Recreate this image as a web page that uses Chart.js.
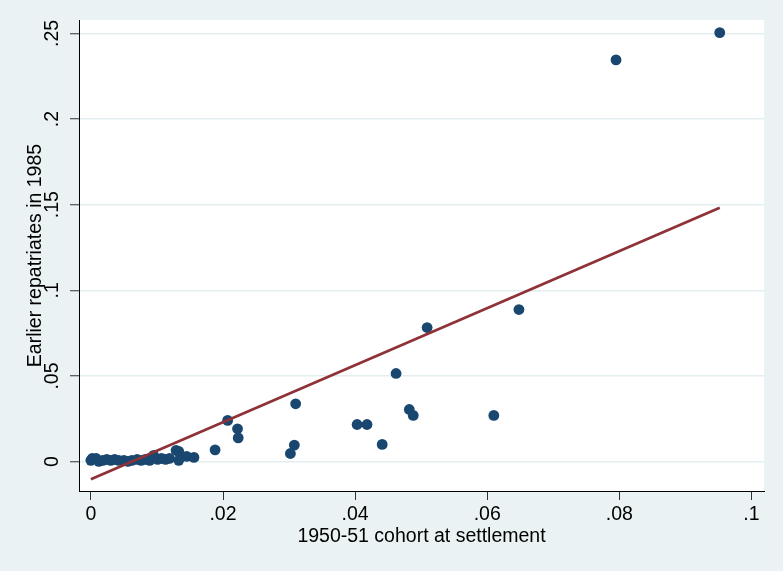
<!DOCTYPE html>
<html>
<head>
<meta charset="utf-8">
<script src="https://cdn.jsdelivr.net/npm/chart.js@4/dist/chart.umd.min.js"></script>
<style>
    html, body { margin: 0; padding: 0; background: #eaf2f3; }
    #wrap { width: 783px; height: 571px; }
</style>
</head>
<body>
<div id="wrap"><canvas id="scatterChart" width="783" height="571"></canvas></div>
<script>
// Data
const cohortShare = [
    0, 0.0002, 0.0008, 0.0012, 0.0018, 0.0024, 0.003, 0.0036, 0.0042, 0.005,
    0.0056, 0.0062, 0.007, 0.0076, 0.0082, 0.0089, 0.0095, 0.0101, 0.0107, 0.0113,
    0.0119, 0.0129, 0.0133, 0.0133, 0.0145, 0.0156, 0.0188, 0.0207, 0.0222, 0.0223,
    0.0310, 0.0308, 0.0302, 0.0403, 0.0418, 0.0441, 0.0462, 0.0482, 0.0488, 0.0509,
    0.0610, 0.0648, 0.0795, 0.0952
];
const repatriates = [
    0.0008, 0.0019, 0.0019, 0.0002, 0.0008, 0.0013, 0.0008, 0.0013, 0.0008, 0.0008,
    0.0002, 0.0008, 0.0013, 0.0008, 0.0013, 0.0008, 0.0037, 0.0013, 0.0019, 0.0013,
    0.0019, 0.0066, 0.0060, 0.0008, 0.0031, 0.0025, 0.0069, 0.0241, 0.0192, 0.0139,
    0.0338, 0.0097, 0.0048, 0.0217, 0.0217, 0.0101, 0.0515, 0.0305, 0.0270, 0.0783,
    0.0270, 0.0888, 0.2345, 0.2504
];

// Fitted line end points
const fitX = [0, 0.0952];
const fitY = [-0.0103, 0.1482];

// Axis ticks
const xTicks = [0, 0.02, 0.04, 0.06, 0.08, 0.1];
const xTickLabels = ['0', '.02', '.04', '.06', '.08', '.1'];
const yTicks = [0, 0.05, 0.1, 0.15, 0.2, 0.25];
const yTickLabels = ['0', '.05', '.1', '.15', '.2', '.25'];

const FONT = { family: "'Liberation Sans', Arial, sans-serif", size: 19.5 };

// White plot region on the grey-blue page
const plotBackground = {
    id: 'plotBackground',
    beforeDraw(chart) {
        const { ctx, chartArea } = chart;
        ctx.save();
        ctx.fillStyle = '#eaf2f3';
        ctx.fillRect(0, 0, chart.width, chart.height);
        ctx.fillStyle = '#ffffff';
        ctx.fillRect(chartArea.left, chartArea.top, chartArea.right - chartArea.left, chartArea.bottom - chartArea.top);
        ctx.restore();
    }
};

const points = cohortShare.map((x, i) => ({ x: x, y: repatriates[i] }));
const fitLine = fitX.map((x, i) => ({ x: x, y: fitY[i] }));

const ctx = document.getElementById('scatterChart').getContext('2d');
new Chart(ctx, {
    type: 'scatter',
    data: {
        datasets: [
            {
                data: fitLine,
                showLine: true,
                borderColor: '#8e3238',
                borderWidth: 2.7,
                pointRadius: 0,
                fill: false
            },
            {
                data: points,
                backgroundColor: '#1a476f',
                borderWidth: 0,
                pointRadius: 5.4
            }
        ]
    },
    options: {
        responsive: false,
        animation: false,
        layout: { padding: { left: 0, top: 20, right: 19, bottom: 0 } },
        plugins: {
            legend: { display: false },
            tooltip: { enabled: false }
        },
        scales: {
            x: {
                type: 'linear',
                min: -0.0018,
                max: 0.1019,
                afterBuildTicks: scale => { scale.ticks = xTicks.map(v => ({ value: v })); },
                afterFit: scale => { scale.height = 80; },
                grid: { drawOnChartArea: false, tickLength: 9, tickColor: '#333', tickWidth: 1 },
                border: { color: '#000', width: 1 },
                ticks: {
                    color: '#000',
                    font: FONT,
                    padding: 3,
                    maxRotation: 0,
                    callback: (v, i) => xTickLabels[i]
                },
                title: {
                    display: true,
                    text: '1950-51 cohort at settlement',
                    color: '#000',
                    font: FONT,
                    padding: { top: 0, bottom: 23 }
                }
            },
            y: {
                type: 'linear',
                min: -0.0171,
                max: 0.2578,
                afterBuildTicks: scale => { scale.ticks = yTicks.map(v => ({ value: v })); },
                afterFit: scale => { scale.width = 79; },
                grid: { color: '#e4edf0', lineWidth: 1.5, tickLength: 9, tickColor: '#333', tickWidth: 1 },
                border: { color: '#000', width: 1 },
                ticks: {
                    color: '#000',
                    font: FONT,
                    padding: 3.5,
                    minRotation: 90,
                    maxRotation: 90,
                    crossAlign: 'center',
                    callback: (v, i) => yTickLabels[i]
                },
                title: {
                    display: true,
                    text: 'Earlier repatriates in 1985',
                    color: '#000',
                    font: FONT,
                    padding: { top: 24, bottom: 0 }
                }
            }
        }
    },
    plugins: [plotBackground]
});
</script>
</body>
</html>
